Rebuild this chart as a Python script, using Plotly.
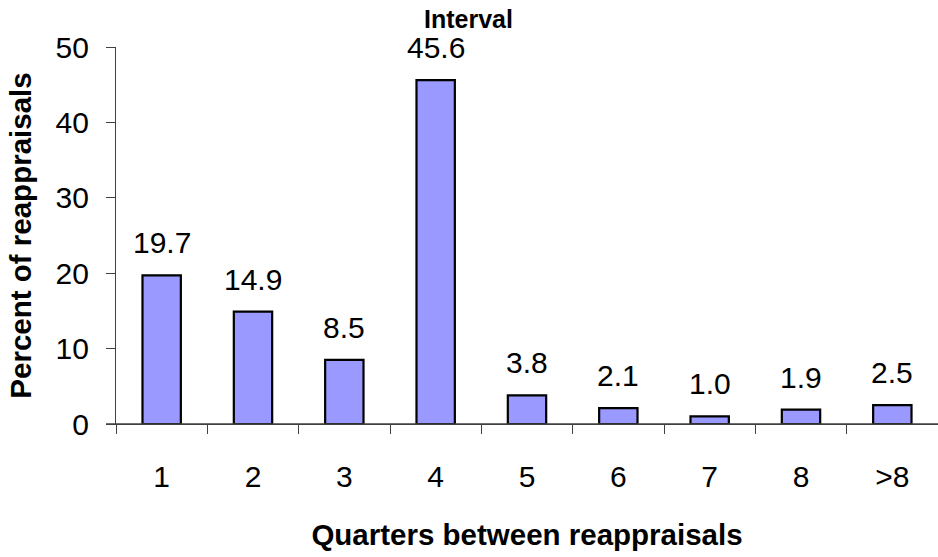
import plotly.graph_objects as go

# Distribution of reappraisal intervals
categories = ["1", "2", "3", "4", "5", "6", "7", "8", ">8"]
percent = [19.7, 14.9, 8.5, 45.6, 3.8, 2.1, 1.0, 1.9, 2.5]
y_ticks = [0, 10, 20, 30, 40, 50]

FONT = "Liberation Sans, Arial, sans-serif"
AXIS_COLOR = "#404040"

fig = go.Figure()
fig.add_trace(go.Bar(
    x=categories,
    y=percent,
    width=0.42,
    marker=dict(color="#9999FF", line=dict(color="black", width=2.2)),
    hoverinfo="skip",
))

# value labels above each bar (category axis positions are indices)
for i, v in enumerate(percent):
    fig.add_annotation(
        x=i, y=v, text=f"{v:.1f}", showarrow=False,
        yanchor="bottom", yshift=14,
        font=dict(family=FONT, size=30, color="black"),
    )

fig.add_annotation(
    x=0.429, y=1.0, xref="paper", yref="paper", yshift=12,
    text="<b>Interval</b>", showarrow=False, yanchor="bottom",
    font=dict(family=FONT, size=25, color="black"),
)

# extend baseline slightly left of the value axis
fig.add_shape(
    type="line", xref="paper", yref="y",
    x0=-10 / 822, x1=1, y0=0, y1=0,
    line=dict(color=AXIS_COLOR, width=1.3),
)

fig.update_layout(
    width=938, height=557,
    margin=dict(l=116, r=0, t=47, b=133),
    paper_bgcolor="white", plot_bgcolor="white",
    showlegend=False,
    font=dict(family=FONT, color="black"),
    xaxis=dict(
        type="category",
        range=[-0.5, 8.5],
        showline=True, linecolor=AXIS_COLOR, linewidth=1.3,
        ticks="outside", tickson="boundaries", ticklen=9,
        tickcolor=AXIS_COLOR, tickwidth=1.3,
        ticklabelstandoff=26,
        tickfont=dict(family=FONT, size=30, color="black"),
        showgrid=False, zeroline=False,
        title=dict(text="<b>Quarters between reappraisals</b>",
                   font=dict(family=FONT, size=29.5, color="black"),
                   standoff=32),
    ),
    yaxis=dict(
        range=[0, 50],
        tickvals=y_ticks,
        showline=True, linecolor=AXIS_COLOR, linewidth=1.3,
        ticks="outside", ticklen=9, tickcolor=AXIS_COLOR, tickwidth=1.3,
        ticklabelstandoff=11,
        tickfont=dict(family=FONT, size=30, color="black"),
        showgrid=False, zeroline=False,
        title=dict(text="<b>Percent of reappraisals</b>",
                   font=dict(family=FONT, size=29.5, color="black"),
                   standoff=15),
    ),
)

fig.write_html("out.html")
